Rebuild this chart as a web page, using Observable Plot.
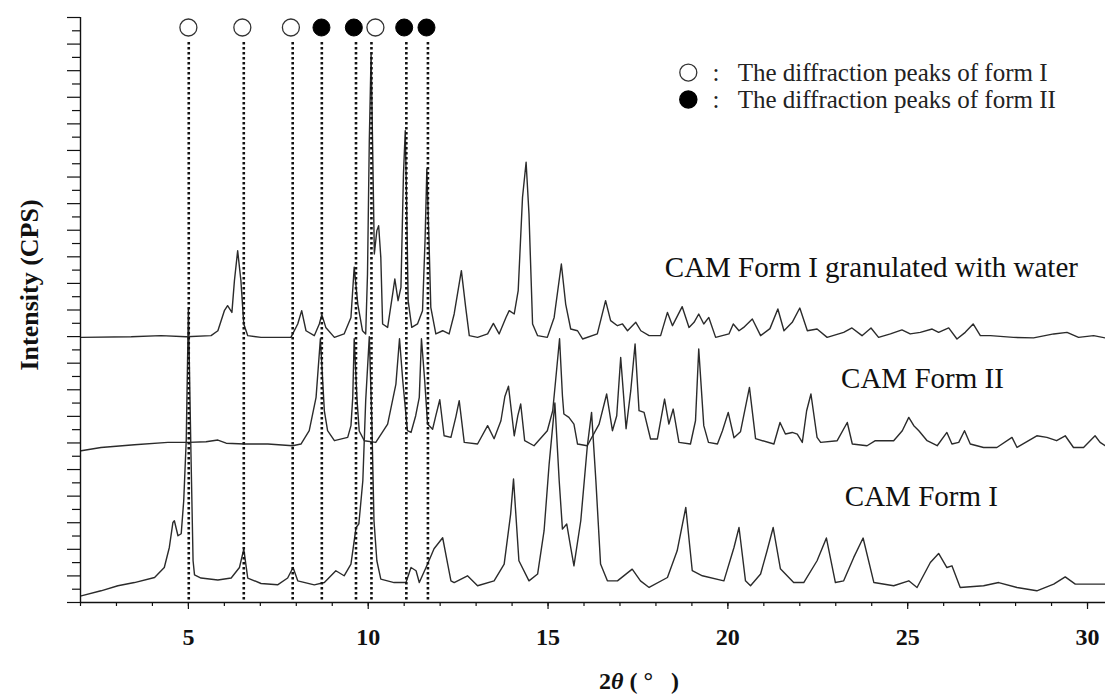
<!DOCTYPE html>
<html><head><meta charset="utf-8">
<script src="https://cdn.jsdelivr.net/npm/d3@7"></script>
<script src="https://cdn.jsdelivr.net/npm/@observablehq/plot@0.6"></script>
<style>html,body{margin:0;padding:0;background:#fff} svg{display:block}</style>
</head><body><div id="chart"></div>
<script>
// XRPD patterns: [2θ (°), intensity (stacked, a.u.)]
const formI = [[2.02,0.50],[2.57,0.88],[3.04,1.26],[3.50,1.50],[4.06,1.88],[4.33,2.63],[4.47,4.14],[4.57,6.02],[4.61,6.15],[4.71,5.02],[4.80,5.17],[4.87,7.65],[4.94,12.2],[5.00,22.1],[5.07,11.4],[5.13,3.14],[5.17,2.08],[5.35,1.84],[5.82,1.69],[6.19,1.84],[6.42,2.63],[6.54,4.02],[6.65,1.84],[7.02,1.43],[7.48,1.33],[7.76,1.84],[7.91,2.63],[8.04,1.63],[8.50,1.33],[8.78,1.50],[9.10,2.39],[9.33,2.01],[9.52,2.89],[9.66,5.62],[9.74,5.92],[9.85,9.16],[9.93,15.2],[10.03,20.0],[10.10,13.7],[10.16,6.15],[10.24,3.14],[10.35,1.76],[10.72,1.50],[11.05,1.50],[11.19,2.63],[11.33,2.39],[11.42,1.50],[11.65,2.89],[11.83,4.04],[12.07,4.87],[12.21,2.89],[12.30,1.63],[12.39,1.50],[12.76,2.01],[13.04,1.26],[13.50,1.63],[13.78,2.89],[13.96,6.65],[14.04,9.29],[14.19,3.14],[14.47,1.63],[14.71,2.14],[14.89,5.40],[15.03,10.4],[15.19,15.0],[15.31,9.16],[15.40,5.52],[15.52,5.90],[15.63,4.14],[15.72,2.76],[15.91,6.15],[16.09,11.7],[16.21,14.3],[16.33,9.16],[16.46,2.89],[16.65,1.63],[16.93,1.63],[17.34,2.51],[17.57,1.63],[17.81,1.13],[18.32,1.88],[18.59,3.89],[18.83,7.15],[19.01,2.39],[19.29,2.01],[19.89,1.63],[20.17,4.14],[20.31,5.64],[20.49,1.63],[20.63,1.26],[20.91,2.14],[21.09,3.89],[21.26,5.64],[21.46,2.54],[21.83,1.50],[22.11,1.50],[22.48,3.14],[22.74,4.85],[22.99,1.50],[23.22,1.63],[23.50,3.39],[23.76,4.85],[24.06,1.50],[24.61,1.26],[25.03,1.63],[25.26,1.13],[25.63,3.01],[25.86,3.69],[26.09,2.63],[26.23,2.76],[26.46,1.13],[27.11,1.26],[27.53,1.50],[28.04,1.13],[28.59,0.88],[29.06,1.38],[29.38,1.93],[29.66,1.38],[30.49,1.38]];

const formII = [[2.02,11.41],[2.57,11.66],[3.50,11.87],[4.43,12.04],[5.00,12.04],[5.49,12.09],[5.82,12.22],[6.05,11.98],[6.56,11.92],[7.21,11.92],[7.90,11.79],[8.13,11.92],[8.36,12.92],[8.55,15.43],[8.67,19.84],[8.78,14.42],[8.87,12.92],[9.06,12.17],[9.43,12.42],[9.52,13.30],[9.57,15.43],[9.61,19.84],[9.69,15.2],[9.75,12.9],[9.89,12.17],[10.21,12.04],[10.54,13.42],[10.77,16.43],[10.87,19.84],[10.96,16.7],[11.09,12.92],[11.19,12.79],[11.32,14.05],[11.42,15.43],[11.48,19.84],[11.57,16.7],[11.65,13.42],[11.79,13.03],[11.88,14.05],[11.99,15.25],[12.11,12.54],[12.30,12.42],[12.44,14.0],[12.53,15.18],[12.67,12.04],[13.04,11.92],[13.32,13.30],[13.50,12.32],[13.69,13.67],[13.80,15.5],[13.90,16.27],[14.06,12.54],[14.16,14.05],[14.24,14.93],[14.35,12.17],[14.61,11.79],[14.98,12.92],[15.13,14.42],[15.21,16.68],[15.32,19.84],[15.40,15.55],[15.44,14.18],[15.58,13.92],[15.72,13.42],[15.82,11.92],[16.09,11.79],[16.42,13.42],[16.63,15.68],[16.79,12.92],[16.91,14.05],[17.02,18.43],[17.17,13.07],[17.30,15.93],[17.42,19.44],[17.53,14.43],[17.67,14.30],[17.85,12.30],[18.04,12.30],[18.24,15.30],[18.36,13.42],[18.48,14.55],[18.64,12.04],[18.96,11.92],[19.10,13.67],[19.19,19.07],[19.33,13.30],[19.46,12.04],[19.71,11.92],[19.85,12.92],[20.01,14.30],[20.17,12.39],[20.35,12.84],[20.60,16.18],[20.77,12.32],[21.28,11.92],[21.45,13.54],[21.60,12.67],[21.79,12.79],[21.93,12.67],[22.07,12.04],[22.19,14.42],[22.31,15.68],[22.48,12.42],[22.58,12.04],[23.04,12.17],[23.32,13.54],[23.46,11.92],[23.87,11.79],[24.10,12.17],[24.61,12.17],[24.85,12.92],[25.03,13.92],[25.17,13.30],[25.31,12.92],[25.54,12.17],[25.82,11.79],[26.09,12.79],[26.23,11.92],[26.42,12.04],[26.58,12.92],[26.74,11.92],[27.11,11.66],[27.48,11.66],[27.90,12.42],[28.04,11.66],[28.59,12.54],[28.87,12.42],[29.14,12.17],[29.38,12.54],[29.61,11.66],[29.89,11.66],[30.21,12.54],[30.35,12.04],[30.49,11.79]];

const granulated = [[2.02,19.94],[3.41,19.99],[4.24,20.07],[4.94,19.99],[5.63,20.07],[5.82,20.44],[6.00,21.95],[6.09,22.33],[6.21,21.82],[6.28,24.21],[6.37,26.46],[6.46,24.21],[6.54,20.95],[6.65,20.07],[7.02,19.94],[7.85,19.94],[8.04,20.95],[8.15,21.95],[8.27,20.44],[8.50,20.07],[8.64,20.95],[8.71,21.65],[8.82,20.69],[9.06,19.94],[9.33,20.20],[9.52,21.44],[9.61,25.21],[9.71,22.45],[9.84,20.44],[9.93,20.20],[9.98,24.71],[10.03,34.74],[10.08,41.26],[10.12,34.74],[10.17,26.21],[10.24,27.97],[10.29,28.34],[10.35,25.96],[10.40,20.95],[10.54,20.69],[10.68,23.21],[10.74,24.33],[10.83,22.70],[10.91,23.70],[10.98,32.23],[11.03,35.49],[11.07,29.72],[11.11,22.70],[11.21,20.69],[11.37,20.95],[11.51,21.95],[11.58,27.22],[11.63,32.61],[11.69,27.22],[11.74,22.20],[11.88,20.20],[12.07,20.44],[12.25,20.20],[12.39,21.70],[12.59,24.96],[12.71,22.20],[12.81,20.07],[13.04,19.94],[13.32,20.20],[13.48,20.99],[13.64,20.20],[13.83,21.44],[13.92,21.95],[14.06,21.70],[14.17,23.45],[14.29,30.47],[14.39,33.11],[14.47,29.22],[14.57,20.95],[14.71,20.07],[14.98,19.94],[15.17,21.44],[15.37,25.46],[15.49,22.45],[15.63,20.57],[15.82,20.44],[15.96,19.82],[16.37,20.20],[16.60,22.70],[16.74,21.20],[16.93,20.82],[17.07,20.95],[17.21,20.44],[17.44,21.07],[17.58,20.44],[17.81,20.07],[18.13,20.07],[18.32,21.82],[18.46,20.82],[18.73,22.25],[18.92,20.69],[19.06,21.07],[19.19,21.70],[19.33,20.95],[19.47,21.44],[19.66,19.94],[20.03,20.20],[20.15,20.95],[20.31,20.44],[20.44,20.69],[20.68,21.32],[20.91,20.07],[21.17,20.6],[21.39,22.08],[21.56,20.44],[21.79,21.07],[22.00,22.15],[22.21,20.44],[22.48,20.57],[22.76,19.94],[23.22,20.32],[23.45,20.65],[23.73,20.07],[23.98,20.65],[24.19,19.94],[24.52,20.20],[24.84,20.50],[25.07,20.20],[25.35,20.32],[25.68,20.57],[25.86,20.32],[26.14,20.65],[26.37,19.82],[26.60,20.32],[26.82,20.95],[27.02,20.07],[27.30,20.07],[27.94,19.94],[28.50,19.90],[29.06,20.20],[29.43,20.32],[29.75,19.94],[30.17,20.07],[30.49,19.90]];

// peak markers (2θ)
const formIMarkers = [5.0, 6.5, 7.85, 10.2];
const formIIMarkers = [8.7, 9.6, 11.0, 11.62];
const guideLines = [5.01, 6.54, 7.90, 8.71, 9.66, 10.09, 11.06, 11.66];

// axis ticks
const xMajorTicks = [5, 10, 15, 20, 25, 30];
const xMinorTicks = d3.range(2, 31);
const yMajorTicks = d3.range(0, 45, 2);
const yMinorTicks = d3.range(1, 44, 2);

// texts
const seriesNames = ["CAM Form I granulated with water", "CAM Form II", "CAM Form I"];
const legendNames = [":   The diffraction peaks of form I", ":   The diffraction peaks of form II"];
const yTitle = "Intensity (CPS)";

const serif = "'Liberation Serif', 'Times New Roman', serif";
const ink = "#2b2b2b";

const chart = Plot.plot({
  width: 1105, height: 695,
  marginLeft: 80, marginRight: 0, marginTop: 17, marginBottom: 93,
  x: {domain: [2, 30.5]},
  y: {domain: [0, 44]},
  style: {fontFamily: serif, background: "white", color: "#111", overflow: "visible"},
  marks: [
    Plot.line(formI, {x: d => d[0], y: d => d[1], stroke: ink, strokeWidth: 1.4}),
    Plot.line(formII, {x: d => d[0], y: d => d[1], stroke: ink, strokeWidth: 1.4}),
    Plot.line(granulated, {x: d => d[0], y: d => d[1], stroke: ink, strokeWidth: 1.4}),
    Plot.ruleX(guideLines, {x: d => d, insetTop: 25, stroke: "#111", strokeWidth: 2.6, strokeDasharray: "2.4,2.6"}),
    Plot.axisY({ticks: yMajorTicks, tickSize: 13, tickFormat: () => "", label: null, strokeWidth: 1.2}),
    Plot.axisY({ticks: yMinorTicks, tickSize: 8, tickFormat: () => "", label: null, strokeWidth: 1.2}),
    Plot.axisX({ticks: xMinorTicks, tickSize: 4, tickFormat: () => "", label: null, strokeWidth: 1.2}),
    Plot.axisX({ticks: xMajorTicks, tickSize: 7, tickPadding: 18, fontSize: 24, fontWeight: "bold", fontFamily: "Liberation Serif", label: null, strokeWidth: 1.2}),
    Plot.ruleX([2], {stroke: "#111", strokeWidth: 1.4}),
    Plot.ruleY([0], {stroke: "#111", strokeWidth: 1.4}),
    Plot.dot(formIMarkers, {x: d => d, frameAnchor: "top", dy: 10, r: 8.5, stroke: "#333", strokeWidth: 1.3, fill: "white"}),
    Plot.dot(formIIMarkers, {x: d => d, frameAnchor: "top", dy: 10, r: 8.5, stroke: "#000", strokeWidth: 1, fill: "#000"}),
    // legend
    Plot.dot([legendNames[0]], {x: () => 18.9, y: () => 39.86, r: 8.5, stroke: "#333", strokeWidth: 1.3, fill: "white"}),
    Plot.dot([legendNames[1]], {x: () => 18.9, y: () => 37.83, r: 8.5, stroke: "#000", fill: "#000"}),
    Plot.text(legendNames, {x: () => 19.57, y: (d, i) => i === 0 ? 39.86 : 37.83, textAnchor: "start", fontSize: 25, fill: "#222"}),
    // series labels
    Plot.text([seriesNames[0]], {x: () => 23.99, y: () => 25.2, fontSize: 29, fill: "#111"}),
    Plot.text([seriesNames[1]], {x: () => 25.41, y: () => 16.85, fontSize: 29, fill: "#111"}),
    Plot.text([seriesNames[2]], {x: () => 25.38, y: () => 7.97, fontSize: 29, fill: "#111"}),
    // axis titles
    Plot.text([yTitle], {frameAnchor: "left", textAnchor: "middle", dx: -51, dy: -25, rotate: -90, fontSize: 26, fontWeight: "bold", fontFamily: "Liberation Serif", fill: "#111"}),
    Plot.text(["2θ ( ° )"], {frameAnchor: "bottom", textAnchor: "middle", dx: 46, dy: 86, fontSize: 24, fontWeight: "bold", fontFamily: "Liberation Serif", fill: "#111", className: "xtitle"})
  ]
});

document.getElementById("chart").appendChild(chart);

// italic theta in the x title
d3.select(chart).selectAll("g.xtitle text").each(function() {
  const t = d3.select(this);
  t.text(null).style("white-space", "pre");
  t.append("tspan").text("2");
  t.append("tspan").attr("font-style", "italic").text("θ");
  t.append("tspan").text(" ( ");
  t.append("tspan").text("°");
  t.append("tspan").text("   )");
});
</script>
</body></html>
